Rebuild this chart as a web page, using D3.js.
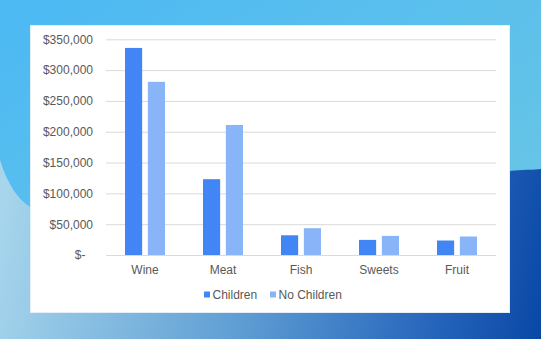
<!DOCTYPE html>
<html>
<head>
<meta charset="utf-8">
<script src="https://cdn.jsdelivr.net/npm/d3@7"></script>
<style>
  html, body { margin: 0; padding: 0; background: #4fbaf2; }
  svg { display: block; }
  text { font-family: "Liberation Sans", Arial, Helvetica, sans-serif; }
</style>
</head>
<body>
<svg id="chart" width="541" height="339"></svg>
<script>
// Spending by product category, households with and without children
const categories = ["Wine", "Meat", "Fish", "Sweets", "Fruit"];
const seriesNames = ["Children", "No Children"];
const childrenValues = [336000, 123000, 32000, 24500, 23500];
const noChildrenValues = [281000, 211000, 43500, 31000, 30000];
const tickValues = [0, 50000, 100000, 150000, 200000, 250000, 300000, 350000];
const tickLabels = ["$-", "$50,000", "$100,000", "$150,000", "$200,000", "$250,000", "$300,000", "$350,000"];
const seriesColors = ["#4285f4", "#8ab4f8"];

const W = 541, H = 339;
const svg = d3.select("#chart");
const defs = svg.append("defs");

// Backdrop: sky blue top with a darker wave sweeping across the bottom
const topGrad = defs.append("linearGradient").attr("id", "topGrad")
  .attr("x1", "0").attr("y1", "0").attr("x2", "1").attr("y2", "1");
topGrad.append("stop").attr("offset", "0").attr("stop-color", "#4cb9f4");
topGrad.append("stop").attr("offset", "1").attr("stop-color", "#6ec8e2");
svg.append("rect").attr("width", W).attr("height", H).attr("fill", "url(#topGrad)");

const waveGrad = defs.append("linearGradient").attr("id", "waveGrad")
  .attr("gradientUnits", "userSpaceOnUse")
  .attr("x1", 0).attr("y1", 230).attr("x2", 541).attr("y2", 330);
waveGrad.append("stop").attr("offset", "0").attr("stop-color", "#a6d5ec");
waveGrad.append("stop").attr("offset", "0.45").attr("stop-color", "#609fd4");
waveGrad.append("stop").attr("offset", "0.8").attr("stop-color", "#2766bc");
waveGrad.append("stop").attr("offset", "1").attr("stop-color", "#0a48a6");
svg.append("path")
  .attr("d", "M0,160 C8,185 18,200 32,208 L498,176 C510,168 522,171 541,169 L541,339 L0,339 Z")
  .attr("fill", "url(#waveGrad)");

// White chart panel
svg.append("rect")
  .attr("x", 30.5).attr("y", 25.5).attr("width", 479).attr("height", 287)
  .attr("fill", "#ffffff").attr("stroke", "#e3eef6").attr("stroke-width", 1);

// Scales
const plotLeft = 106, plotRight = 496;
const y = d3.scaleLinear().domain([0, 350000]).range([255, 39.3]);
const x0 = d3.scaleBand().domain(categories).range([plotLeft, plotRight]);
const x1 = d3.scaleBand().domain(seriesNames)
  .range([19, x0.bandwidth() - 19]).paddingInner(0.25);

// Gridlines and value axis
const yAxis = d3.axisLeft(y)
  .tickValues(tickValues)
  .tickSize(-(plotRight - plotLeft))
  .tickPadding(13)
  .tickFormat((d, i) => tickLabels[i]);
const gy = svg.append("g").attr("transform", `translate(${plotLeft},0)`).call(yAxis);
gy.select(".domain").remove();
gy.selectAll(".tick line").attr("stroke", "#dadada").attr("stroke-width", 1);
gy.selectAll(".tick text")
  .attr("fill", "#595959").attr("font-size", 12)
  .attr("dx", (d, i) => tickLabels[i].endsWith("-") ? -7.5 : 0);

// Bars
const rows = categories.map((c, i) => ({ category: c, values: [childrenValues[i], noChildrenValues[i]] }));
const groups = svg.append("g").selectAll("g").data(rows).join("g")
  .attr("transform", d => `translate(${x0(d.category)},0)`);
groups.selectAll("rect")
  .data(d => d.values.map((v, k) => ({ key: seriesNames[k], value: v, k })))
  .join("rect")
  .attr("x", d => x1(d.key))
  .attr("width", x1.bandwidth())
  .attr("y", d => y(d.value))
  .attr("height", d => y(0) - y(d.value))
  .attr("fill", d => seriesColors[d.k]);

// Category axis
const xAxis = d3.axisBottom(x0).tickSize(0).tickPadding(10);
const gx = svg.append("g").attr("transform", `translate(0,${y(0)})`).call(xAxis);
gx.select(".domain").remove();
gx.selectAll(".tick text").attr("fill", "#595959").attr("font-size", 12);

// Legend
const legendX = [204, 270];
const legend = svg.append("g").selectAll("g").data(seriesNames).join("g")
  .attr("transform", (d, i) => `translate(${legendX[i]},291.5)`);
legend.append("rect").attr("width", 6).attr("height", 6)
  .attr("fill", (d, i) => seriesColors[i]);
legend.append("text").attr("x", 8.5).attr("y", 3).attr("dy", "0.35em")
  .attr("fill", "#595959").attr("font-size", 12).text(d => d);
</script>
</body>
</html>
